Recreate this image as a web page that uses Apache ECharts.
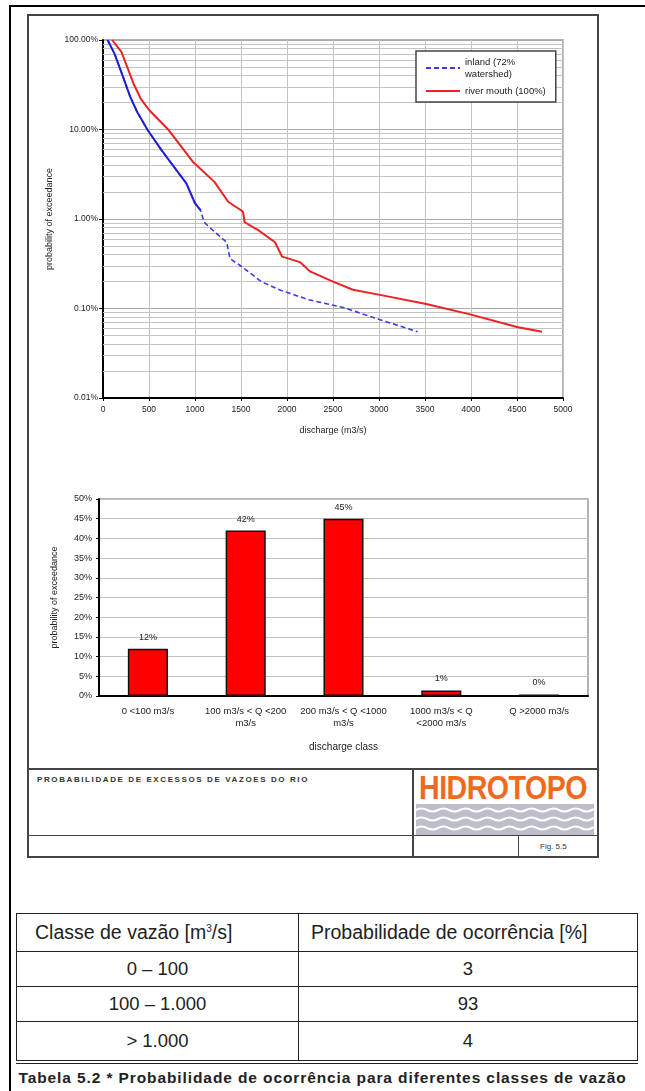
<!DOCTYPE html>
<html>
<head>
<meta charset="utf-8">
<script src="https://cdn.jsdelivr.net/npm/echarts@6/dist/echarts.min.js"></script>
<style>
  body { margin: 0; width: 645px; height: 1091px; position: relative; overflow: hidden; background: #fff;
         font-family: 'Liberation Sans', Arial, sans-serif; color: #222; }
  .abs { position: absolute; }
  #outer { left: 9px; top: 5px; width: 700px; height: 1200px; border-left: 2px solid #000; border-top: 2px solid #000; }
  #frame { left: 27px; top: 14px; width: 572px; height: 844px; border: 2px solid #444; box-sizing: border-box; }
  .hl { height: 0; border-top: 2px solid #444; }
  .vl { width: 0; border-left: 2px solid #444; }
  #title { left: 37px; top: 775px; font-size: 8px; letter-spacing: 1.6px; font-weight: bold; color: #333; }
  #logo { left: 419px; top: 769px; width: 180px; font-size: 27px; font-weight: bold; color: #f06a1e;
          transform: scale(1.06, 1.25); transform-origin: left top; letter-spacing: -0.5px; }
  #fig { left: 540px; top: 842px; font-size: 8px; color: #333; }
  #chart { left: 0; top: 0; width: 645px; height: 770px; }
  table { border-collapse: collapse; table-layout: fixed; font-size: 18.5px; color: #222; }
  #tbl { left: 16px; top: 913px; }
  #tbl td { border: 1.5px solid #222; text-align: center; padding: 0; }
  #tbl tr.h td { text-align: left; padding-left: 18px; height: 37px; font-size: 19.5px; }
  #tbl tr.h td + td { padding-left: 12px; }
  #tbl tr.r td { height: 34px; }
  #tbl tr.last td { height: 38px; border-bottom: 4px double #222; }
  #caption { left: 0; width: 645px; top: 1069px; text-align: center; font-size: 15.5px; letter-spacing: 0.9px; font-weight: bold; color: #222; }
</style>
</head>
<body>
<div id="outer" class="abs"></div>
<div id="frame" class="abs"></div>
<div class="abs hl" style="left:27px;top:768px;width:571px;"></div>
<div class="abs hl" style="left:27px;top:835px;width:571px;border-top-width:1.5px;"></div>
<div class="abs vl" style="left:412px;top:768px;height:89px;"></div>
<div class="abs vl" style="left:518px;top:835px;height:22px;border-left-width:1.5px;"></div>
<div id="title" class="abs">PROBABILIDADE DE EXCESSOS DE VAZOES DO RIO</div>
<div id="logo" class="abs">HIDROTOPO</div>
<svg id="waves" class="abs" style="left:416px;top:804px;" width="178" height="31"></svg>
<div id="fig" class="abs">Fig. 5.5</div>
<div id="chart" class="abs"></div>
<div id="tbl" class="abs"></div>
<div id="caption" class="abs">Tabela 5.2 * Probabilidade de ocorrência para diferentes classes de vazão</div>

<script>
// curva de permanência (probabilidade de excedência em %)
const dischargeInland = [50, 126, 221, 297, 373, 487, 640, 800, 906, 1000, 1059, 1100, 1211, 1344, 1382, 1515, 1720, 1930, 2239, 2620, 3011, 3420];
const probInland      = [100, 70, 38, 23, 15.6, 9.8, 5.8, 3.5, 2.5, 1.5, 1.26, 0.92, 0.72, 0.55, 0.36, 0.29, 0.2, 0.16, 0.125, 0.102, 0.075, 0.055];
const dischargeMouth  = [100, 202, 335, 411, 506, 716, 982, 1211, 1363, 1497, 1522, 1540, 1687, 1870, 1946, 2141, 2250, 2500, 2717, 3011, 3514, 3991, 4500, 4772];
const probMouth       = [100, 73, 32, 22, 16.3, 9.8, 4.3, 2.6, 1.55, 1.26, 1.2, 0.92, 0.75, 0.55, 0.38, 0.33, 0.26, 0.2, 0.162, 0.142, 0.112, 0.086, 0.062, 0.055];
const lineNames = ['inland (72%\nwatershed)', 'river mouth (100%)'];

// distribuição por classe de vazão
const barClasses = ['0 <100 m3/s', '100 m3/s < Q <200\nm3/s', '200 m3/s < Q <1000\nm3/s', '1000 m3/s < Q\n<2000 m3/s', 'Q >2000 m3/s'];
const barProb = [12, 42, 45, 1.4, 0.4];

// tabela 5.2
const tableHead = ['Classe de vazão [m<sup style="font-size:10px">3</sup>/s]', 'Probabilidade de ocorrência [%]'];
const tableClasses = ['0 – 100', '100 – 1.000', '> 1.000'];
const tableProb = [3, 93, 4];

var html = '<table style="width:622px"><colgroup><col style="width:282px"><col></colgroup><tr class="h"><td>' + tableHead[0] + '</td><td>' + tableHead[1] + '</td></tr>';
tableClasses.forEach(function (c, i) {
  html += '<tr class="r' + (i === tableClasses.length - 1 ? ' last' : '') + '"><td>' + c + '</td><td>' + tableProb[i] + '</td></tr>';
});
document.getElementById('tbl').innerHTML = html + '</table>';

// ondas do logo
var svg = document.getElementById('waves');
var w = '<rect x="0" y="0" width="178" height="31" fill="#bdbdcb"/>';
[6, 15, 24].forEach(function (y) {
  var d = 'M0 ' + y;
  for (var x = 0; x < 178; x += 22) d += ' q5.5 -3 11 0 t11 0';
  w += '<path d="' + d + '" stroke="#fff" stroke-width="2.2" fill="none"/>';
});
svg.innerHTML = w;

var pairs = function (xs, ys) { return xs.map(function (x, i) { return [x, ys[i]]; }); };

var minorLines = [];
[0.01, 0.1, 1, 10].forEach(function (d) {
  for (var k = 2; k <= 9; k++) minorLines.push({ yAxis: +(d * k).toPrecision(3) });
});

var font = { color: '#222', fontFamily: 'Liberation Sans' };
var f = function (size, extra) { return Object.assign({ fontSize: size }, font, extra || {}); };

var chart = echarts.init(document.getElementById('chart'));
chart.setOption({
  animation: false,
  grid: [
    { left: 103, top: 40, width: 460, height: 358, show: true, borderColor: '#999', borderWidth: 1.5 },
    { left: 99, top: 499, width: 489, height: 197, show: true, borderColor: '#999', borderWidth: 1.5 }
  ],
  legend: {
    data: lineNames, z: 20,
    left: 416, top: 51, orient: 'vertical',
    backgroundColor: '#fff', borderColor: '#444', borderWidth: 1.5,
    padding: [5, 10, 5, 9], itemGap: 5, itemWidth: 34, itemHeight: 8,
    itemStyle: { color: 'rgba(0,0,0,0)', borderWidth: 0 },
    textStyle: f(9.5, { lineHeight: 12 })
  },
  xAxis: [
    {
      gridIndex: 0, type: 'value', min: 0, max: 5000, interval: 500,
      name: 'discharge (m3/s)', nameLocation: 'middle', nameGap: 28, nameTextStyle: f(9),
      axisLine: { lineStyle: { color: '#000', width: 2 } },
      axisTick: { length: 3, lineStyle: { color: '#000' } },
      axisLabel: f(8.5, { margin: 7, formatter: function (v) { return String(v); } }),
      splitLine: { lineStyle: { color: '#c4c4c4', width: 1 } }
    },
    {
      gridIndex: 1, type: 'category', data: barClasses,
      name: 'discharge class', nameLocation: 'middle', nameGap: 46, nameTextStyle: f(10),
      axisLine: { lineStyle: { color: '#000', width: 2 } },
      axisTick: { length: 4, lineStyle: { color: '#000', width: 1.5 } },
      axisLabel: f(9.5, { margin: 9, interval: 0, lineHeight: 12 }),
      splitLine: { show: false }
    }
  ],
  yAxis: [
    {
      gridIndex: 0, type: 'log', logBase: 10, min: 0.01, max: 100,
      name: 'probability of exceedance', nameLocation: 'middle', nameGap: 46, nameTextStyle: f(9),
      axisLine: { show: true, lineStyle: { color: '#000', width: 2 } },
      axisTick: { show: true, length: 4, lineStyle: { color: '#000' } },
      axisLabel: f(8.5, { margin: 5, formatter: function (v) { return v.toFixed(2) + '%'; } }),
      splitLine: { lineStyle: { color: '#aaa', width: 1 } }
    },
    {
      gridIndex: 1, type: 'value', min: 0, max: 50, interval: 5,
      name: 'probability of exceedance', nameLocation: 'middle', nameGap: 40, nameTextStyle: f(9),
      axisLine: { show: true, lineStyle: { color: '#000', width: 2 } },
      axisTick: { show: true, length: 3, lineStyle: { color: '#000' } },
      axisLabel: f(9, { margin: 7, formatter: '{value}%' }),
      splitLine: { lineStyle: { color: '#c4c4c4', width: 1 } }
    }
  ],
  series: [
    {
      // linhas secundárias da escala logarítmica
      type: 'line', xAxisIndex: 0, yAxisIndex: 0, data: [], silent: true, z: 1,
      markLine: { z: 1, silent: true, symbol: 'none', label: { show: false }, animation: false,
        lineStyle: { color: '#c4c4c4', width: 1, type: 'solid' }, data: minorLines }
    },
    {
      name: lineNames[0], type: 'line', xAxisIndex: 0, yAxisIndex: 0, symbol: 'none', z: 3,
      data: pairs(dischargeInland, probInland),
      lineStyle: { color: '#3a3af0', width: 1.6, type: [5, 3] }, itemStyle: { color: '#1f1fd8' }
    },
    {
      name: lineNames[0], type: 'line', xAxisIndex: 0, yAxisIndex: 0, symbol: 'none', z: 3,
      data: pairs(dischargeInland.slice(0, 11), probInland.slice(0, 11)),
      lineStyle: { color: '#1f1fd8', width: 2 }
    },
    {
      name: lineNames[1], type: 'line', xAxisIndex: 0, yAxisIndex: 0, symbol: 'none', z: 4,
      data: pairs(dischargeMouth, probMouth),
      lineStyle: { color: '#ee2020', width: 2 }, itemStyle: { color: '#ee2020' }
    },
    {
      type: 'bar', xAxisIndex: 1, yAxisIndex: 1, data: barProb, barWidth: '41%',
      itemStyle: { color: '#ff0000', borderColor: '#111', borderWidth: 1.5 },
      label: f(9, { show: true, position: 'top', distance: 7,
        formatter: function (p) { return Math.round(p.value) + '%'; } })
    }
  ]
});
</script>
</body>
</html>
